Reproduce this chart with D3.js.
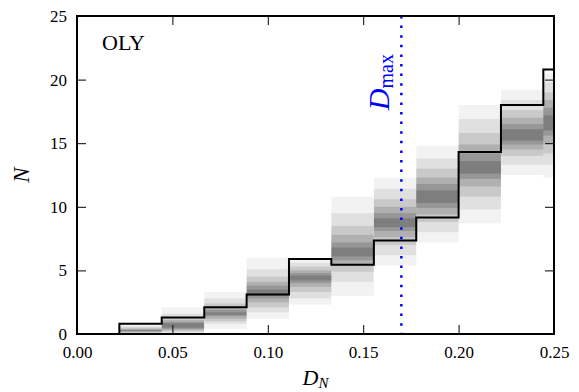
<!DOCTYPE html>
<html>
<head>
<meta charset="utf-8">
<script src="https://cdn.jsdelivr.net/npm/d3@7"></script>
<style>
  body { margin: 0; background: #fff; }
  svg text { font-family: "Liberation Serif", "DejaVu Serif", serif; fill: #000; }
</style>
</head>
<body>
<div id="chart"></div>
<script>
// left edges of the D_N bins, and the bin width
var binLeft = [0.0, 0.0222, 0.0444, 0.0667, 0.0889, 0.1111, 0.1333, 0.1556, 0.1778, 0.2000, 0.2222, 0.2444];
var binWidth = 0.0222;
// observed cumulative count (black step line)
var observedN = [0, 0.8, 1.3, 2.1, 3.1, 5.9, 5.45, 7.35, 9.15, 14.3, 18.0, 20.8];
// simulated bands, outer level first; one value per bin (bin 0 has none)
var bandLo = [
  [null, 0.0, 0.05, 0.4, 1.2, 2.3, 3.0, 5.4, 7.2, 8.7, 12.5, 12.3],
  [null, 0.05, 0.1, 0.8, 1.7, 2.8, 4.1, 6.2, 8.0, 9.8, 13.3, 13.3],
  [null, 0.1, 0.2, 1.0, 2.1, 3.3, 4.9, 7.0, 8.8, 10.8, 14.0, 14.2],
  [null, 0.15, 0.3, 1.2, 2.5, 3.7, 5.4, 7.6, 9.4, 11.6, 14.5, 15.0],
  [null, 0.2, 0.4, 1.4, 2.8, 4.0, 5.8, 8.1, 9.9, 12.2, 14.9, 15.6],
  [null, 0.25, 0.5, 1.5, 3.0, 4.2, 6.1, 8.4, 10.3, 12.6, 15.2, 16.0]
];
var bandHi = [
  [null, 0.75, 2.1, 3.3, 6.0, 5.9, 10.8, 12.3, 14.8, 18.0, 19.2, 20.5],
  [null, 0.6, 1.6, 2.8, 5.1, 5.6, 9.5, 11.4, 13.8, 16.9, 18.4, 19.8],
  [null, 0.5, 1.3, 2.4, 4.5, 5.3, 8.5, 10.6, 13.0, 15.8, 17.6, 19.0],
  [null, 0.4, 1.1, 2.1, 4.1, 5.0, 7.8, 10.0, 12.3, 14.9, 17.0, 18.4],
  [null, 0.35, 0.95, 1.9, 3.8, 4.8, 7.2, 9.5, 11.8, 14.2, 16.5, 17.8],
  [null, 0.3, 0.85, 1.7, 3.5, 4.6, 6.8, 9.1, 11.3, 13.6, 16.1, 17.2]
];
var levelOpacity = [0.05, 0.07, 0.1, 0.12, 0.14, 0.16];
var dMax = 0.17;
var xTicks = [0.00, 0.05, 0.10, 0.15, 0.20, 0.25];
var yTicks = [0, 5, 10, 15, 20, 25];

var margin = { top: 16, right: 25, bottom: 58, left: 77 },
  width = 579 - margin.left - margin.right,
  height = 392 - margin.top - margin.bottom;

var svg = d3.select("#chart").append("svg")
  .attr("width", 579)
  .attr("height", 392)
  .append("g")
  .attr("transform", "translate(" + margin.left + "," + margin.top + ")");

var x = d3.scaleLinear().domain([0, 0.25]).range([0, width]);
var y = d3.scaleLinear().domain([0, 25]).range([height, 0]);

svg.append("clipPath").attr("id", "plot-clip")
  .append("rect").attr("width", width).attr("height", height);

var plot = svg.append("g").attr("clip-path", "url(#plot-clip)");

// shaded bands, stacked translucent rectangles
bandLo.forEach(function (lo, level) {
  var hi = bandHi[level];
  var rows = binLeft.map(function (b, i) { return { x0: b, lo: lo[i], hi: hi[i] }; })
    .filter(function (d) { return d.lo !== null; });
  plot.append("g").selectAll("rect")
    .data(rows)
    .enter().append("rect")
    .attr("x", function (d) { return x(d.x0); })
    .attr("width", function (d) { return x(d.x0 + binWidth) - x(d.x0); })
    .attr("y", function (d) { return y(d.hi); })
    .attr("height", function (d) { return y(d.lo) - y(d.hi); })
    .attr("fill", "#000")
    .attr("fill-opacity", levelOpacity[level]);
});

// observed step line
var stepData = binLeft.map(function (b, i) { return [b, observedN[i]]; });
stepData.push([binLeft[binLeft.length - 1] + binWidth, observedN[observedN.length - 1]]);

var stepLine = d3.line()
  .x(function (d) { return x(d[0]); })
  .y(function (d) { return y(d[1]); })
  .curve(d3.curveStepAfter);

plot.append("path")
  .attr("d", stepLine(stepData))
  .attr("fill", "none")
  .attr("stroke", "#000")
  .attr("stroke-width", 2);

// D_max marker
plot.append("line")
  .attr("x1", x(dMax)).attr("x2", x(dMax))
  .attr("y1", 0).attr("y2", height)
  .attr("stroke", "#0000ff")
  .attr("stroke-width", 2.5)
  .attr("stroke-dasharray", "2.5,7.1");

var dmaxLabel = svg.append("text")
  .attr("transform", "translate(" + (x(dMax) - 12) + "," + y(17.6) + ") rotate(-90)")
  .style("fill", "#0000ff")
  .style("font-size", "30px");
dmaxLabel.append("tspan").style("font-style", "italic").style("fill", "#0000ff").text("D");
dmaxLabel.append("tspan").attr("dy", 4).style("font-size", "20px").style("fill", "#0000ff").text("max");

// axes: ticks inside on all four sides
var xAxis = d3.axisBottom(x).tickValues(xTicks).tickFormat(d3.format(".2f"))
  .tickSize(-9).tickPadding(12);
var yAxis = d3.axisLeft(y).tickValues(yTicks).tickFormat(d3.format("d"))
  .tickSize(-9).tickPadding(10);

var gx = svg.append("g").attr("transform", "translate(0," + height + ")").call(xAxis);
var gy = svg.append("g").call(yAxis);
svg.append("g").call(d3.axisTop(x).tickValues(xTicks).tickSize(-9).tickFormat(""));
svg.append("g").attr("transform", "translate(" + width + ",0)")
  .call(d3.axisRight(y).tickValues(yTicks).tickSize(-9).tickFormat(""));

svg.selectAll(".domain").remove();
svg.selectAll(".tick line").attr("stroke", "#000").attr("stroke-width", 1);
gx.selectAll("text").style("font-size", "17px").style("font-family", "Liberation Serif");
gy.selectAll("text").style("font-size", "17px").style("font-family", "Liberation Serif");

svg.append("rect")
  .attr("width", width).attr("height", height)
  .attr("fill", "none").attr("stroke", "#000").attr("stroke-width", 2);

// labels
svg.append("text")
  .attr("x", 25).attr("y", 34)
  .style("font-size", "22px")
  .text("OLY");

var xLabel = svg.append("text")
  .attr("x", width / 2).attr("y", height + 51)
  .attr("text-anchor", "middle")
  .style("font-size", "22px");
xLabel.append("tspan").style("font-style", "italic").text("D");
xLabel.append("tspan").attr("dy", 3).style("font-size", "15px").style("font-style", "italic").text("N");

svg.append("text")
  .attr("transform", "translate(-48," + (height / 2) + ") rotate(-90)")
  .attr("text-anchor", "middle")
  .style("font-size", "23px")
  .style("font-style", "italic")
  .text("N");
</script>
</body>
</html>
